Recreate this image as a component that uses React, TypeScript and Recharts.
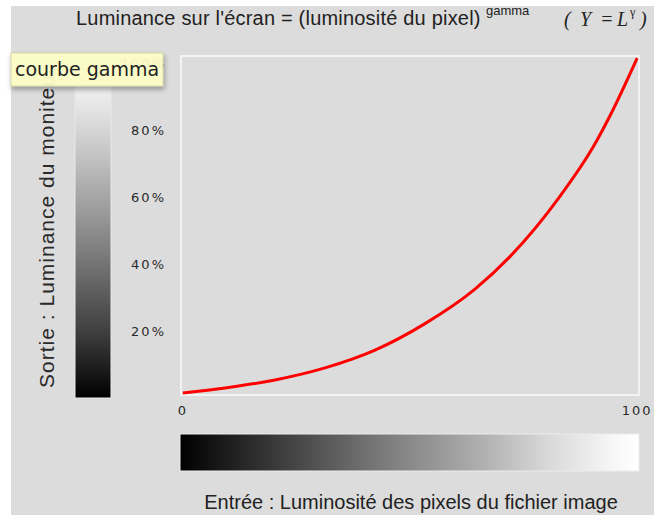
import React from "react";
import { LineChart, Line, XAxis, YAxis, ReferenceArea } from "recharts";

// pixel brightness of the image file (0..100) and resulting screen luminance (%)
const inputLevels = [0, 9.3, 20.3, 31.3, 42.3, 53.3, 64.3, 72.0, 83.0, 90.3, 94.1, 100];
const outputLuminance = [1.5, 3.0, 5.4, 9.0, 14.3, 22.2, 32.5, 42.2, 60.2, 74.9, 84.5, 101.5];

const xTicks = [0, 100];
const yTicks = [20, 40, 60, 80, 100];

const data = inputLevels.map((x, i) => ({ x, y: outputLuminance[i] }));

const tickStyle = {
  fill: "#2a2a2a",
  fontSize: 13,
  fontFamily: "DejaVu Sans",
  letterSpacing: 2,
};

export default function App() {
  return (
    <div style={{ position: "absolute", left: 0, top: 0, width: 654, height: 515, background: "#fff" }}>
      <div style={{ position: "absolute", left: 11, top: 6, right: 0, bottom: 0, background: "#dcdcdc" }} />
      <div style={{ position: "absolute", left: 0, top: 0 }}>
        <LineChart width={654} height={515} data={data} margin={{ top: 56, right: 15, bottom: 90, left: 0 }}>
          <XAxis
            type="number"
            dataKey="x"
            domain={[-0.4, 100.4]}
            ticks={xTicks}
            allowDataOverflow
            axisLine={false}
            tickLine={false}
            tickSize={6}
            tickMargin={5}
            height={30}
            tick={tickStyle}
          />
          <YAxis
            type="number"
            domain={[0.9, 102.1]}
            ticks={yTicks}
            allowDataOverflow
            axisLine={false}
            tickLine={false}
            tickSize={6}
            tickMargin={9}
            width={181}
            tick={tickStyle}
            tickFormatter={(v) => `${v}%`}
          />
          <ReferenceArea x1={-0.4} x2={100.4} y1={0.9} y2={102.1} fill="none" stroke="#f3f3f3" strokeWidth={2} />
          <Line
            type="monotone"
            dataKey="y"
            stroke="#ff0000"
            strokeWidth={3}
            dot={false}
            isAnimationActive={false}
          />
        </LineChart>
      </div>
      <svg width={654} height={515} style={{ position: "absolute", left: 0, top: 0, pointerEvents: "none" }}>
        <defs>
          <linearGradient id="vbar" x1="0" y1="0" x2="0" y2="1">
            <stop offset="0" stopColor="#e2e2e2" />
            <stop offset="0.1" stopColor="#ececec" />
            <stop offset="0.2" stopColor="#d6d6d6" />
            <stop offset="0.4" stopColor="#a6a6a6" />
            <stop offset="0.6" stopColor="#747474" />
            <stop offset="0.8" stopColor="#404040" />
            <stop offset="1" stopColor="#000" />
          </linearGradient>
          <linearGradient id="hbar" x1="0" y1="0" x2="1" y2="0">
            <stop offset="0" stopColor="#000" />
            <stop offset="0.15" stopColor="#2a2a2a" />
            <stop offset="0.44" stopColor="#7a7a7a" />
            <stop offset="0.66" stopColor="#b0b0b0" />
            <stop offset="0.8" stopColor="#d8d8d8" />
            <stop offset="0.95" stopColor="#f8f8f8" />
            <stop offset="1" stopColor="#fff" />
          </linearGradient>
          <filter id="shadow" x="-10%" y="-20%" width="130%" height="160%">
            <feDropShadow dx="1" dy="3" stdDeviation="2.5" floodColor="#000" floodOpacity="0.35" />
          </filter>
        </defs>

        <rect x={75} y={62} width={36} height={336} fill="url(#vbar)" stroke="#e8e8e8" strokeWidth={1} />
        <rect x={180} y={434} width={459} height={37} fill="url(#hbar)" stroke="#ececec" strokeWidth={1} />

        <g fontFamily="Liberation Sans, Arial, sans-serif" fill="#222">
          <text x={76} y={25} fontSize={20} letterSpacing={0.2}>Luminance sur l'écran = (luminosité du pixel)</text>
          <text x={486} y={15} fontSize={13}>gamma</text>
        </g>
        <g fontFamily="Liberation Serif, serif" fontStyle="italic" fontSize={20} fill="#222">
          <text x={564} y={26}>(</text>
          <text x={580} y={26}>Y</text>
          <text x={600} y={26}>=</text>
          <text x={617} y={26}>L</text>
          <text x={630} y={16} fontSize={12} fontStyle="normal">γ</text>
          <text x={640} y={26}>)</text>
        </g>

        <text
          x={46}
          y={227}
          transform="rotate(-90 46 227)"
          textAnchor="middle"
          dominantBaseline="central"
          fontFamily="Liberation Sans, Arial, sans-serif"
          fontSize={21}
          letterSpacing={1}
          fill="#2a2a2a"
        >
          Sortie : Luminance du moniteur
        </text>

        <text
          x={411}
          y={509}
          textAnchor="middle"
          fontFamily="Liberation Sans, Arial, sans-serif"
          fontSize={20}
          fill="#222"
        >
          Entrée : Luminosité des pixels du fichier image
        </text>

        <g filter="url(#shadow)">
          <rect x={11} y={53} width={152} height={33} fill="#ffffc8" fillOpacity={0.93} stroke="#d6d6a8" strokeWidth={1} />
        </g>
        <text x={15} y={76} fontFamily="DejaVu Sans" fontSize={19} fill="#222">
          courbe gamma
        </text>
      </svg>
    </div>
  );
}
